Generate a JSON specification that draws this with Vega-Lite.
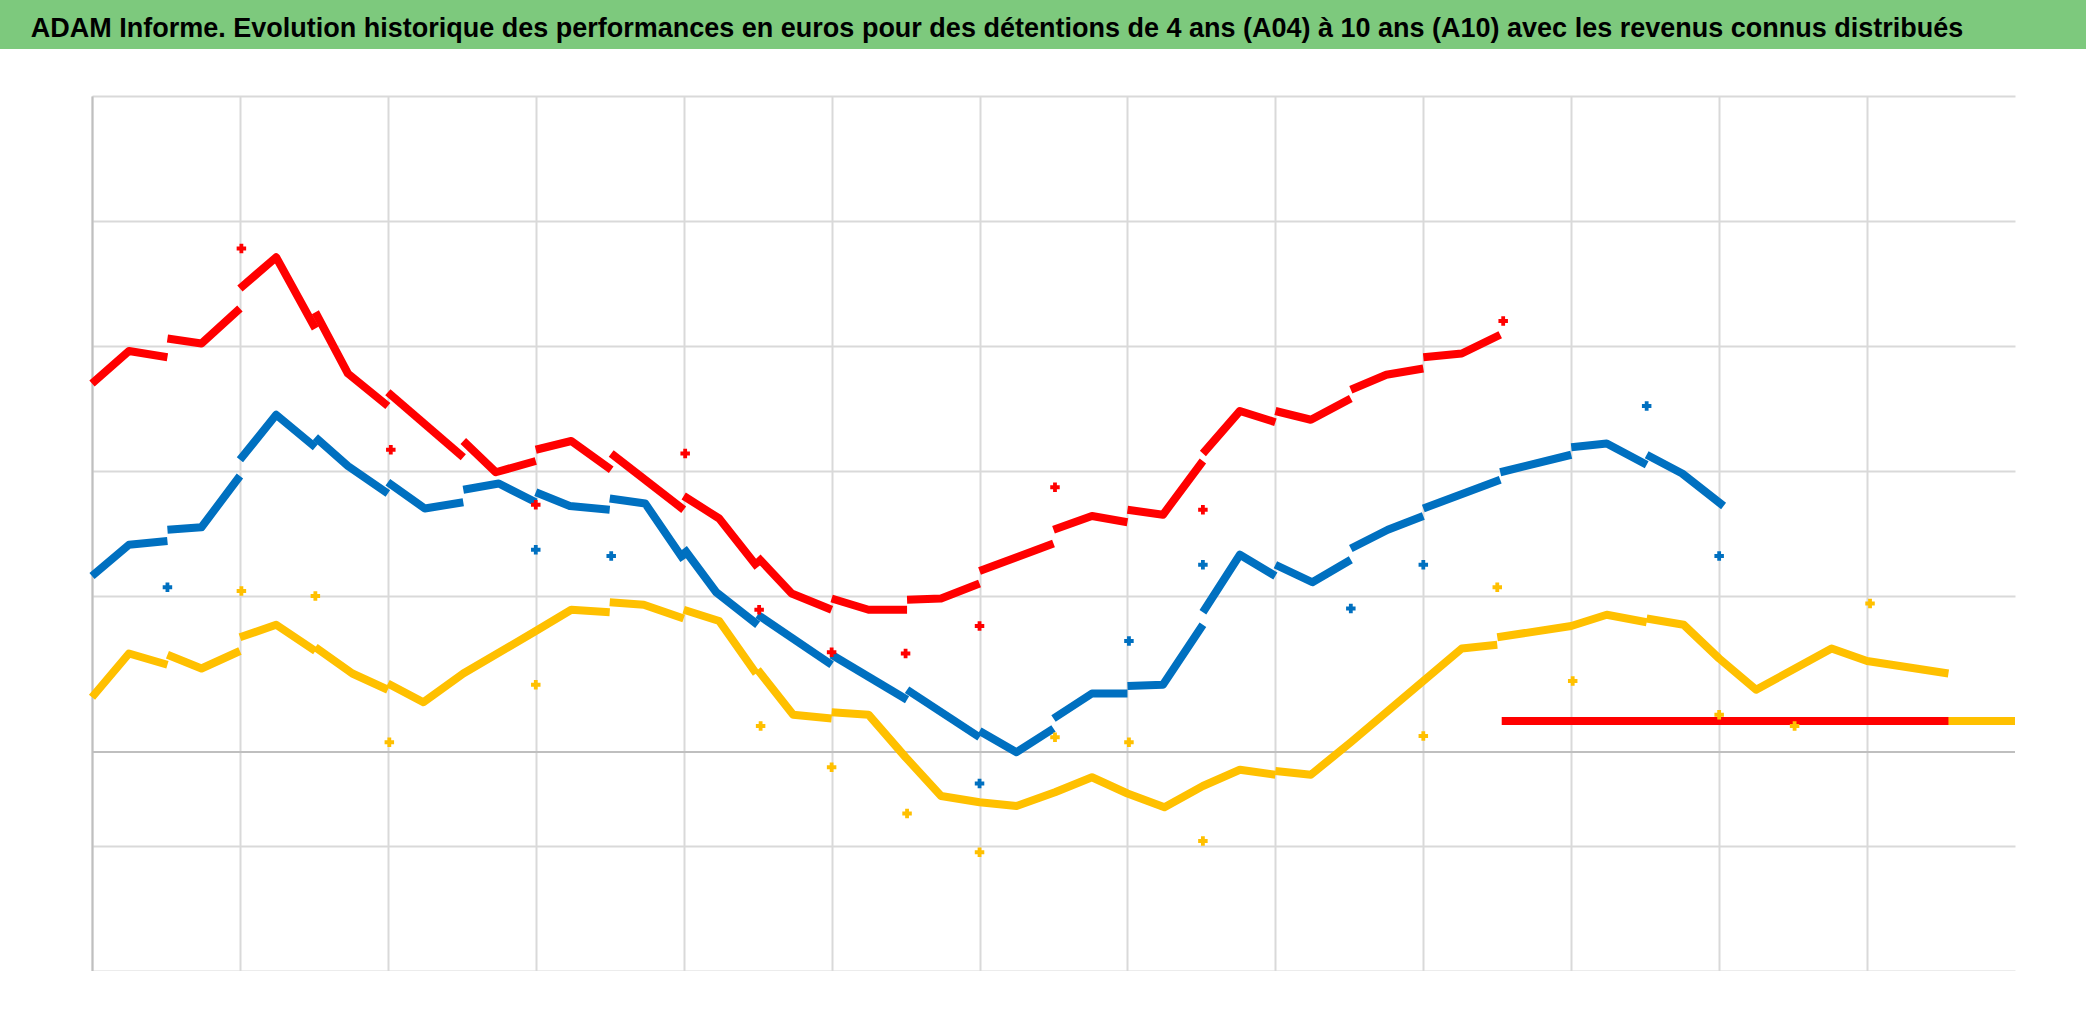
{
  "$schema": "https://vega.github.io/schema/vega-lite/v6.json",
  "padding": 0,
  "background": "white",
  "spacing": 47,
  "config": {"view": {"stroke": null}},
  "datasets": {
    "lignes": [
      {"s":"S1","g":1,"t":0,"v":3.16},{"s":"S1","g":1,"t":0.25,"v":3.41},{"s":"S1","g":1,"t":0.51,"v":3.44},
      {"s":"S1","g":2,"t":0.51,"v":3.53},{"s":"S1","g":2,"t":0.74,"v":3.55},{"s":"S1","g":2,"t":1.0,"v":3.96},
      {"s":"S1","g":3,"t":1.0,"v":4.09},{"s":"S1","g":3,"t":1.245,"v":4.45},{"s":"S1","g":3,"t":1.51,"v":4.19},
      {"s":"S1","g":4,"t":1.51,"v":4.27},{"s":"S1","g":4,"t":1.73,"v":4.04},{"s":"S1","g":4,"t":2.0,"v":3.82},
      {"s":"S1","g":5,"t":2.0,"v":3.91},{"s":"S1","g":5,"t":2.25,"v":3.70},{"s":"S1","g":5,"t":2.51,"v":3.75},
      {"s":"S1","g":6,"t":2.51,"v":3.85},{"s":"S1","g":6,"t":2.75,"v":3.90},{"s":"S1","g":6,"t":3.0,"v":3.75},
      {"s":"S1","g":7,"t":3.0,"v":3.83},{"s":"S1","g":7,"t":3.23,"v":3.72},{"s":"S1","g":7,"t":3.5,"v":3.69},
      {"s":"S1","g":8,"t":3.5,"v":3.78},{"s":"S1","g":8,"t":3.74,"v":3.74},{"s":"S1","g":8,"t":4.0,"v":3.29},
      {"s":"S1","g":9,"t":4.0,"v":3.38},{"s":"S1","g":9,"t":4.22,"v":3.03},{"s":"S1","g":9,"t":4.5,"v":2.77},
      {"s":"S1","g":10,"t":4.5,"v":2.85},{"s":"S1","g":10,"t":5.0,"v":2.45},
      {"s":"S1","g":11,"t":5.0,"v":2.53},{"s":"S1","g":11,"t":5.51,"v":2.17},
      {"s":"S1","g":12,"t":5.51,"v":2.25},{"s":"S1","g":12,"t":6.0,"v":1.87},
      {"s":"S1","g":13,"t":6.0,"v":1.92},{"s":"S1","g":13,"t":6.25,"v":1.75},{"s":"S1","g":13,"t":6.5,"v":1.94},
      {"s":"S1","g":14,"t":6.5,"v":2.02},{"s":"S1","g":14,"t":6.76,"v":2.22},{"s":"S1","g":14,"t":7.0,"v":2.22},
      {"s":"S1","g":15,"t":7.0,"v":2.28},{"s":"S1","g":15,"t":7.24,"v":2.29},{"s":"S1","g":15,"t":7.51,"v":2.77},
      {"s":"S1","g":16,"t":7.51,"v":2.87},{"s":"S1","g":16,"t":7.76,"v":3.33},{"s":"S1","g":16,"t":8.0,"v":3.16},
      {"s":"S1","g":17,"t":8.0,"v":3.25},{"s":"S1","g":17,"t":8.25,"v":3.11},{"s":"S1","g":17,"t":8.51,"v":3.29},
      {"s":"S1","g":18,"t":8.51,"v":3.38},{"s":"S1","g":18,"t":8.76,"v":3.53},{"s":"S1","g":18,"t":9.0,"v":3.64},
      {"s":"S1","g":19,"t":9.0,"v":3.70},{"s":"S1","g":19,"t":9.52,"v":3.93},
      {"s":"S1","g":20,"t":9.52,"v":3.99},{"s":"S1","g":20,"t":10.0,"v":4.13},
      {"s":"S1","g":21,"t":10.0,"v":4.19},{"s":"S1","g":21,"t":10.24,"v":4.22},{"s":"S1","g":21,"t":10.51,"v":4.05},
      {"s":"S1","g":22,"t":10.51,"v":4.13},{"s":"S1","g":22,"t":10.75,"v":3.98},{"s":"S1","g":22,"t":11.03,"v":3.72},

      {"s":"S2","g":1,"t":0,"v":4.70},{"s":"S2","g":1,"t":0.25,"v":4.96},{"s":"S2","g":1,"t":0.51,"v":4.91},
      {"s":"S2","g":2,"t":0.51,"v":5.06},{"s":"S2","g":2,"t":0.74,"v":5.02},{"s":"S2","g":2,"t":1.0,"v":5.30},
      {"s":"S2","g":3,"t":1.0,"v":5.46},{"s":"S2","g":3,"t":1.245,"v":5.71},{"s":"S2","g":3,"t":1.51,"v":5.14},
      {"s":"S2","g":4,"t":1.51,"v":5.27},{"s":"S2","g":4,"t":1.73,"v":4.78},{"s":"S2","g":4,"t":2.0,"v":4.52},
      {"s":"S2","g":5,"t":2.0,"v":4.63},{"s":"S2","g":5,"t":2.51,"v":4.11},
      {"s":"S2","g":6,"t":2.51,"v":4.24},{"s":"S2","g":6,"t":2.73,"v":3.99},{"s":"S2","g":6,"t":3.0,"v":4.08},
      {"s":"S2","g":7,"t":3.0,"v":4.17},{"s":"S2","g":7,"t":3.24,"v":4.24},{"s":"S2","g":7,"t":3.51,"v":4.01},
      {"s":"S2","g":8,"t":3.51,"v":4.14},{"s":"S2","g":8,"t":4.0,"v":3.69},
      {"s":"S2","g":9,"t":4.0,"v":3.80},{"s":"S2","g":9,"t":4.24,"v":3.62},{"s":"S2","g":9,"t":4.5,"v":3.23},
      {"s":"S2","g":10,"t":4.5,"v":3.31},{"s":"S2","g":10,"t":4.73,"v":3.02},{"s":"S2","g":10,"t":5.0,"v":2.89},
      {"s":"S2","g":11,"t":5.0,"v":2.98},{"s":"S2","g":11,"t":5.25,"v":2.89},{"s":"S2","g":11,"t":5.51,"v":2.89},
      {"s":"S2","g":12,"t":5.51,"v":2.97},{"s":"S2","g":12,"t":5.74,"v":2.98},{"s":"S2","g":12,"t":6.0,"v":3.10},
      {"s":"S2","g":13,"t":6.0,"v":3.20},{"s":"S2","g":13,"t":6.5,"v":3.42},
      {"s":"S2","g":14,"t":6.5,"v":3.53},{"s":"S2","g":14,"t":6.76,"v":3.64},{"s":"S2","g":14,"t":7.0,"v":3.59},
      {"s":"S2","g":15,"t":7.0,"v":3.69},{"s":"S2","g":15,"t":7.24,"v":3.65},{"s":"S2","g":15,"t":7.51,"v":4.08},
      {"s":"S2","g":16,"t":7.51,"v":4.14},{"s":"S2","g":16,"t":7.76,"v":4.48},{"s":"S2","g":16,"t":8.0,"v":4.39},
      {"s":"S2","g":17,"t":8.0,"v":4.48},{"s":"S2","g":17,"t":8.24,"v":4.41},{"s":"S2","g":17,"t":8.51,"v":4.58},
      {"s":"S2","g":18,"t":8.51,"v":4.65},{"s":"S2","g":18,"t":8.75,"v":4.77},{"s":"S2","g":18,"t":9.0,"v":4.82},
      {"s":"S2","g":19,"t":9.0,"v":4.91},{"s":"S2","g":19,"t":9.26,"v":4.94},{"s":"S2","g":19,"t":9.52,"v":5.09},
      {"s":"S2","g":20,"t":9.53,"v":2.0},{"s":"S2","g":20,"t":13.0,"v":2.0},

      {"s":"S3","g":1,"t":0,"v":2.19},{"s":"S3","g":1,"t":0.25,"v":2.54},{"s":"S3","g":1,"t":0.51,"v":2.45},
      {"s":"S3","g":2,"t":0.51,"v":2.53},{"s":"S3","g":2,"t":0.74,"v":2.42},{"s":"S3","g":2,"t":1.0,"v":2.56},
      {"s":"S3","g":3,"t":1.0,"v":2.67},{"s":"S3","g":3,"t":1.245,"v":2.77},{"s":"S3","g":3,"t":1.51,"v":2.56},
      {"s":"S3","g":4,"t":1.51,"v":2.59},{"s":"S3","g":4,"t":1.76,"v":2.38},{"s":"S3","g":4,"t":2.0,"v":2.25},
      {"s":"S3","g":5,"t":2.0,"v":2.30},{"s":"S3","g":5,"t":2.24,"v":2.15},{"s":"S3","g":5,"t":2.51,"v":2.38},{"s":"S3","g":5,"t":3.0,"v":2.72},{"s":"S3","g":5,"t":3.24,"v":2.89},{"s":"S3","g":5,"t":3.5,"v":2.87},
      {"s":"S3","g":6,"t":3.5,"v":2.95},{"s":"S3","g":6,"t":3.73,"v":2.93},{"s":"S3","g":6,"t":4.0,"v":2.82},
      {"s":"S3","g":7,"t":4.0,"v":2.89},{"s":"S3","g":7,"t":4.24,"v":2.80},{"s":"S3","g":7,"t":4.49,"v":2.38},
      {"s":"S3","g":8,"t":4.5,"v":2.41},{"s":"S3","g":8,"t":4.74,"v":2.05},{"s":"S3","g":8,"t":5.0,"v":2.02},
      {"s":"S3","g":9,"t":5.0,"v":2.07},{"s":"S3","g":9,"t":5.25,"v":2.05},{"s":"S3","g":9,"t":5.5,"v":1.71},{"s":"S3","g":9,"t":5.74,"v":1.40},{"s":"S3","g":9,"t":6.0,"v":1.35},{"s":"S3","g":9,"t":6.25,"v":1.32},{"s":"S3","g":9,"t":6.51,"v":1.43},{"s":"S3","g":9,"t":6.76,"v":1.55},{"s":"S3","g":9,"t":7.0,"v":1.42},{"s":"S3","g":9,"t":7.25,"v":1.31},{"s":"S3","g":9,"t":7.51,"v":1.48},{"s":"S3","g":9,"t":7.76,"v":1.61},{"s":"S3","g":9,"t":8.0,"v":1.57},
      {"s":"S3","g":10,"t":8.0,"v":1.60},{"s":"S3","g":10,"t":8.24,"v":1.57},{"s":"S3","g":10,"t":8.51,"v":1.83},{"s":"S3","g":10,"t":9.0,"v":2.32},{"s":"S3","g":10,"t":9.26,"v":2.58},{"s":"S3","g":10,"t":9.5,"v":2.61},
      {"s":"S3","g":11,"t":9.5,"v":2.67},{"s":"S3","g":11,"t":10.0,"v":2.76},{"s":"S3","g":11,"t":10.24,"v":2.85},{"s":"S3","g":11,"t":10.51,"v":2.79},
      {"s":"S3","g":12,"t":10.51,"v":2.82},{"s":"S3","g":12,"t":10.76,"v":2.77},{"s":"S3","g":12,"t":11.0,"v":2.50},{"s":"S3","g":12,"t":11.25,"v":2.25},{"s":"S3","g":12,"t":11.76,"v":2.58},{"s":"S3","g":12,"t":12.0,"v":2.48},{"s":"S3","g":12,"t":12.55,"v":2.38},
      {"s":"S3","g":13,"t":12.55,"v":2.0},{"s":"S3","g":13,"t":13.0,"v":2.0}
    ],
    "points": [
      {"s":"S1","t":0.51,"v":3.07},{"s":"S1","t":3.0,"v":3.37},{"s":"S1","t":3.51,"v":3.32},{"s":"S1","t":6.0,"v":1.50},{"s":"S1","t":7.01,"v":2.64},{"s":"S1","t":7.51,"v":3.25},{"s":"S1","t":8.51,"v":2.90},{"s":"S1","t":9.0,"v":3.25},{"s":"S1","t":10.51,"v":4.52},{"s":"S1","t":11.0,"v":3.32},
      {"s":"S2","t":1.01,"v":5.78},{"s":"S2","t":2.02,"v":4.17},{"s":"S2","t":3.0,"v":3.73},{"s":"S2","t":4.01,"v":4.14},{"s":"S2","t":4.51,"v":2.89},{"s":"S2","t":5.0,"v":2.55},{"s":"S2","t":5.5,"v":2.54},{"s":"S2","t":6.0,"v":2.76},{"s":"S2","t":6.51,"v":3.87},{"s":"S2","t":7.51,"v":3.69},{"s":"S2","t":9.54,"v":5.20},
      {"s":"S3","t":1.01,"v":3.04},{"s":"S3","t":1.51,"v":3.00},{"s":"S3","t":2.01,"v":1.83},{"s":"S3","t":3.0,"v":2.29},{"s":"S3","t":4.52,"v":1.96},{"s":"S3","t":5.0,"v":1.63},{"s":"S3","t":5.51,"v":1.26},{"s":"S3","t":6.0,"v":0.95},{"s":"S3","t":6.51,"v":1.87},{"s":"S3","t":7.01,"v":1.83},{"s":"S3","t":7.51,"v":1.04},{"s":"S3","t":9.0,"v":1.88},{"s":"S3","t":9.5,"v":3.07},{"s":"S3","t":10.01,"v":2.32},{"s":"S3","t":11.0,"v":2.05},{"s":"S3","t":11.51,"v":1.96},{"s":"S3","t":12.02,"v":2.94}
    ]
  },
  "vconcat": [
    {
      "width": 2086,
      "height": 49,
      "view": {"fill": "#7DC97D", "stroke": null},
      "data": {"values": [{"titre": "ADAM Informe. Evolution historique des performances en euros pour des détentions de 4 ans (A04) à 10 ans (A10) avec les revenus connus distribués"}]},
      "mark": {"type": "text", "font": "Liberation Sans", "fontWeight": "bold", "fontSize": 27, "color": "#000000", "baseline": "middle", "dx": -46, "dy": 4},
      "encoding": {"text": {"field": "titre", "type": "nominal"}}
    },
    {
      "spacing": 0,
      "hconcat": [
        {
          "width": 88,
          "height": 10,
          "data": {"values": []},
          "mark": {"type": "point", "opacity": 0}
        },
        {
          "width": 1923,
          "height": 875,
          "encoding": {
            "y": {"type": "quantitative", "title": null, "scale": {"domain": [0, 7], "nice": false, "zero": false},
                  "axis": {"values": [0,1,3,4,5,6,7], "grid": true, "gridColor": "#D9D9D9", "gridWidth": 2, "labels": false, "ticks": false, "domain": true, "domainColor": "#BFBFBF", "domainWidth": 2, "title": null, "minExtent": 0, "maxExtent": 0}}
          },
          "layer": [
            {
              "data": {"values": [{}]},
              "mark": {"type": "rule", "color": "#BFBFBF", "strokeWidth": 2},
              "encoding": {"y": {"datum": 1.752, "type": "quantitative"}}
            },
            {
              "data": {"name": "lignes"},
              "mark": {"type": "line", "strokeWidth": 8, "strokeJoin": "round"},
              "encoding": {
                "x": {"field": "t", "type": "quantitative", "title": null, "scale": {"domain": [0, 13], "nice": false, "zero": false},
                      "axis": {"values": [0,1,2,3,4,5,6,7,8,9,10,11,12], "grid": true, "gridColor": "#D9D9D9", "gridWidth": 2, "labels": false, "ticks": false, "domain": false, "title": null, "minExtent": 0, "maxExtent": 0}},
                "y": {"field": "v"},
                "color": {"field": "s", "type": "nominal", "scale": {"domain": ["S1","S2","S3"], "range": ["#0070C0","#FF0000","#FFC000"]}, "legend": null},
                "detail": {"field": "g", "type": "nominal"}
              }
            },
            {
              "data": {"name": "points"},
              "mark": {"type": "point", "shape": "cross", "filled": true, "size": 90, "opacity": 1},
              "encoding": {
                "x": {"field": "t", "type": "quantitative", "title": null},
                "y": {"field": "v"},
                "color": {"field": "s", "type": "nominal", "legend": null}
              }
            }
          ]
        }
      ]
    }
  ]
}
